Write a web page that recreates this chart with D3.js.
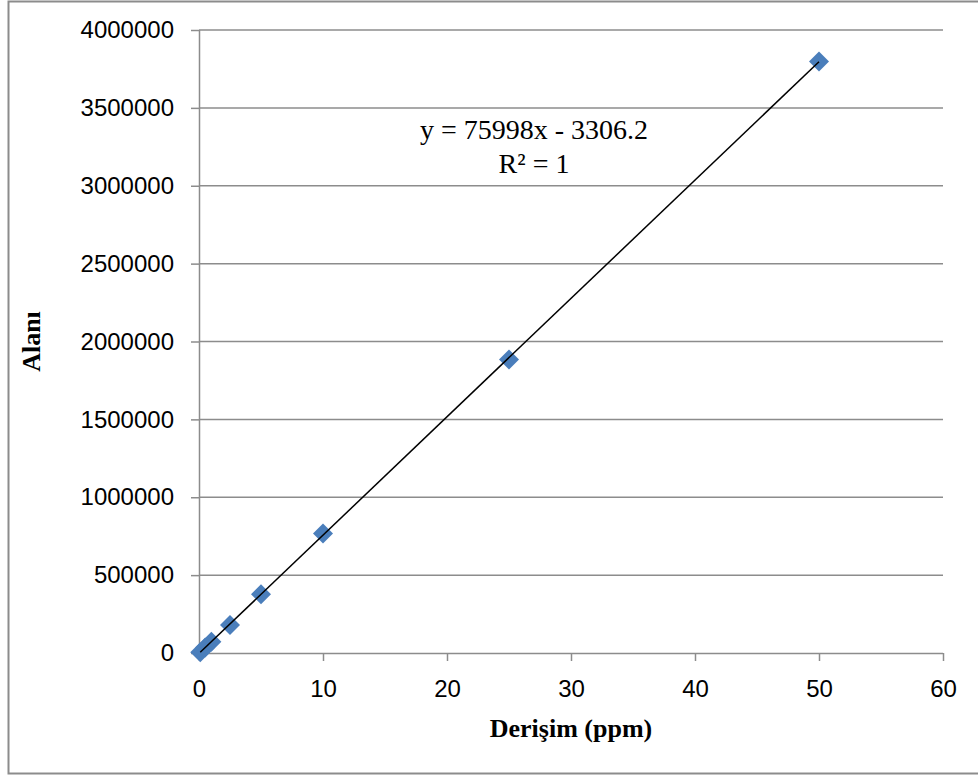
<!DOCTYPE html>
<html>
<head>
<meta charset="utf-8">
<script src="https://cdn.jsdelivr.net/npm/d3@7"></script>
<style>
    body { margin: 0; background: #fff; }
    .tick text { font-family: "Liberation Sans", Arial, sans-serif; font-size: 24px; fill: #000; }
    .axisTitle { font-family: "Liberation Serif", "Times New Roman", serif; font-weight: bold; font-size: 26px; }
    .eqText { font-family: "Liberation Serif", "Times New Roman", serif; font-size: 28px; }
</style>
</head>
<body>
<div id="chart"></div>
<script>

// concentrations (ppm) and measured peak areas
var conc = [0.1, 0.5, 1, 2.5, 5, 10, 25, 50];
var area = [4500, 35000, 72000, 180000, 378000, 768000, 1885000, 3797000];

var xTicks = [0, 10, 20, 30, 40, 50, 60];
var yTicks = [0, 500000, 1000000, 1500000, 2000000, 2500000, 3000000, 3500000, 4000000];

var slope = 75998, intercept = -3306.2;
var eqLines = ["y = 75998x - 3306.2", "R\u00B2 = 1"];

function Chart(){
    var self = this;
    self.init();
};

Chart.prototype.init = function(){
    var self = this;
    self.width = 978;
    self.height = 778;
    self.margin = {top: 30, right: 35, bottom: 125, left: 199};

    self.svg = d3.select("#chart").append("svg")
        .attr("width", self.width)
        .attr("height", self.height);

    // outer chart frame
    self.svg.append("rect")
        .attr("x", 8.5).attr("y", 1.5)
        .attr("width", 980).attr("height", 772)
        .attr("fill", "none")
        .attr("stroke", "#8c8c8c")
        .attr("stroke-width", 2);
};

Chart.prototype.update = function(){
    var self = this;
    var left = self.margin.left, top = self.margin.top;
    var right = self.width - self.margin.right;
    var bottom = self.height - self.margin.bottom;

    var x = d3.scaleLinear().domain([0, 60]).range([left, right]);
    var y = d3.scaleLinear().domain([0, 4000000]).range([bottom, top]);

    // horizontal grid
    self.svg.append("g").selectAll("line")
        .data(yTicks.slice(1))
        .enter().append("line")
        .attr("x1", left).attr("x2", right)
        .attr("y1", function(d){ return y(d); })
        .attr("y2", function(d){ return y(d); })
        .attr("stroke", "#8c8c8c")
        .attr("stroke-width", 1.5);

    var yAxis = self.svg.append("g")
        .attr("transform", "translate(" + left + ",0)")
        .call(d3.axisLeft(y).tickValues(yTicks).tickFormat(d3.format("d")).tickSize(8).tickPadding(17));

    var xAxis = self.svg.append("g")
        .attr("transform", "translate(0," + bottom + ")")
        .call(d3.axisBottom(x).tickValues(xTicks).tickFormat(d3.format("d")).tickSize(8).tickPadding(19));

    [yAxis, xAxis].forEach(function(g){
        g.select(".domain").attr("stroke", "#8c8c8c").attr("stroke-width", 1.5);
        g.selectAll(".tick line").attr("stroke", "#8c8c8c").attr("stroke-width", 1.5);
    });
    yAxis.select(".domain").attr("d", "M0.5," + top + "V" + bottom);
    xAxis.select(".domain").attr("d", "M" + left + ",0.5H" + right);

    // markers
    var diamond = d3.symbol().type(d3.symbolSquare).size(200);
    self.svg.append("g").selectAll("path")
        .data(conc)
        .enter().append("path")
        .attr("d", diamond)
        .attr("transform", function(d, i){
            return "translate(" + x(d) + "," + y(area[i]) + ") rotate(45)";
        })
        .attr("fill", "#4a7ebb");

    // linear trendline
    var xEnds = d3.extent(conc);
    self.svg.append("line")
        .attr("x1", x(xEnds[0])).attr("y1", y(slope * xEnds[0] + intercept))
        .attr("x2", x(xEnds[1])).attr("y2", y(slope * xEnds[1] + intercept))
        .attr("stroke", "#000")
        .attr("stroke-width", 1.5);

    self.svg.append("g").selectAll("text")
        .data(eqLines)
        .enter().append("text")
        .attr("class", "eqText")
        .attr("x", 534)
        .attr("y", function(d, i){ return 139 + i * 34; })
        .attr("text-anchor", "middle")
        .text(function(d){ return d; });

    self.svg.append("text")
        .attr("class", "axisTitle")
        .attr("x", (left + right) / 2)
        .attr("y", 737)
        .attr("text-anchor", "middle")
        .text("Derişim (ppm)");

    self.svg.append("text")
        .attr("class", "axisTitle")
        .attr("transform", "translate(40," + ((top + bottom) / 2) + ") rotate(-90)")
        .attr("text-anchor", "middle")
        .text("Alanı");
};

var chart = new Chart();
chart.update();

</script>
</body>
</html>
